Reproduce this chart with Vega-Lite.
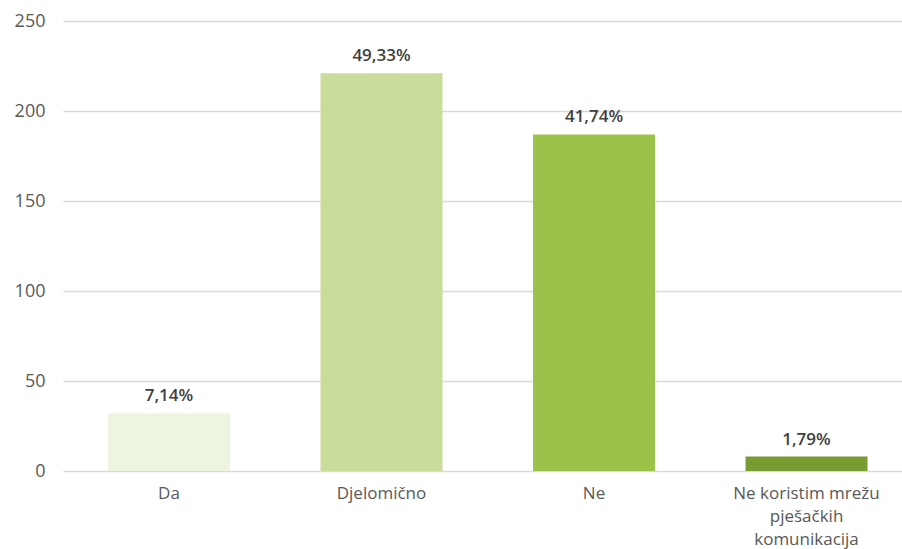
{
  "$schema": "https://vega.github.io/schema/vega-lite/v6.json",
  "autosize": {"type": "none"},
  "padding": {"left": 63, "top": 21, "right": 0, "bottom": 78},
  "width": 839,
  "height": 450,
  "background": "white",
  "config": {"view": {"stroke": null}, "font": "Open Sans"},
  "data": {"values": [
    {"kategorija": "Da", "broj": 32, "postotak": "7,14%"},
    {"kategorija": "Djelomično", "broj": 221, "postotak": "49,33%"},
    {"kategorija": "Ne", "broj": 187, "postotak": "41,74%"},
    {"kategorija": "Ne koristim mrežu pješačkih komunikacija", "broj": 8, "postotak": "1,79%"}
  ]},
  "encoding": {
    "x": {
      "field": "kategorija", "type": "nominal", "sort": null,
      "scale": {"paddingInner": 0.426, "paddingOuter": 0.187, "align": 0.566},
      "axis": {
        "title": null, "labelAngle": 0, "domain": false, "ticks": false,
        "labelFontSize": 17, "labelColor": "#595959", "labelPadding": 14,
        "labelLineHeight": 23, "labelBaseline": "top",
        "labelExpr": "datum.value == 'Ne koristim mrežu pješačkih komunikacija' ? ['Ne koristim mrežu', 'pješačkih', 'komunikacija'] : datum.value"
      }
    },
    "y": {
      "field": "broj", "type": "quantitative",
      "scale": {"domain": [0, 250]},
      "axis": {
        "title": null, "values": [0, 50, 100, 150, 200, 250],
        "domain": false, "ticks": false, "labelPadding": 18,
        "labelFontSize": 18, "labelColor": "#595959",
        "gridColor": "#D9D9D9", "gridWidth": 1.5
      }
    }
  },
  "layer": [
    {
      "mark": {"type": "bar"},
      "encoding": {
        "color": {
          "field": "kategorija", "type": "nominal", "legend": null,
          "scale": {
            "domain": ["Da", "Djelomično", "Ne", "Ne koristim mrežu pješačkih komunikacija"],
            "range": ["#EDF4DF", "#C9DC99", "#9DC24A", "#789B32"]
          }
        }
      }
    },
    {
      "mark": {"type": "text", "baseline": "alphabetic", "dy": -12, "fontSize": 17, "fontWeight": 600, "color": "#404040"},
      "encoding": {"text": {"field": "postotak"}}
    }
  ]
}
